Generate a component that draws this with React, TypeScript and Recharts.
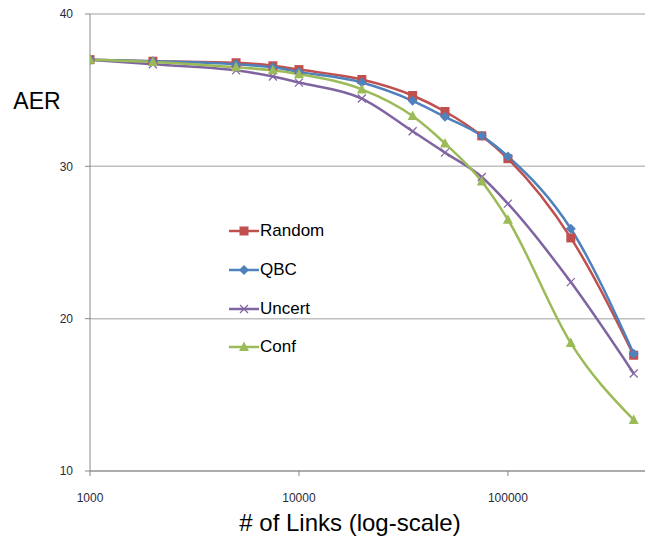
import React from "react";
import { LineChart, Line, XAxis, YAxis, CartesianGrid, Legend } from "recharts";

// # of links (log scale)
const links = [1000, 2000, 5000, 7500, 10000, 20000, 35000, 50000, 75000, 100000, 200000, 400000];
const random = [37.0, 36.9, 36.8, 36.6, 36.35, 35.7, 34.65, 33.6, 32.0, 30.5, 25.3, 17.6];
const qbc = [37.0, 36.9, 36.7, 36.5, 36.2, 35.5, 34.3, 33.25, 32.0, 30.65, 25.9, 17.7];
const uncert = [37.0, 36.7, 36.3, 35.9, 35.5, 34.45, 32.3, 30.9, 29.3, 27.55, 22.4, 16.4];
const conf = [37.0, 36.85, 36.5, 36.3, 36.05, 35.05, 33.3, 31.5, 29.0, 26.5, 18.4, 13.35];

const xTicks = [1000, 10000, 100000];
const yTicks = [10, 20, 30, 40];

const data = links.map((n, i) => ({
  n, random: random[i], qbc: qbc[i], uncert: uncert[i], conf: conf[i],
}));

const FONT = "'Liberation Sans', Arial, sans-serif";

type MarkerKind = "square" | "diamond" | "cross" | "triangle";

function Marker({ kind, cx, cy, color }: { kind: MarkerKind; cx: number; cy: number; color: string }) {
  if (kind === "square") return <rect x={cx - 4.5} y={cy - 4.5} width={9} height={9} fill={color} />;
  if (kind === "diamond") return <path d={`M${cx},${cy - 5}L${cx + 5},${cy}L${cx},${cy + 5}L${cx - 5},${cy}Z`} fill={color} />;
  if (kind === "triangle") return <path d={`M${cx},${cy - 5.5}L${cx + 5},${cy + 4}L${cx - 5},${cy + 4}Z`} fill={color} />;
  return (
    <path d={`M${cx - 4},${cy - 4}L${cx + 4},${cy + 4}M${cx - 4},${cy + 4}L${cx + 4},${cy - 4}`}
      stroke={color} strokeWidth={1.2} fill="none" />
  );
}

const series: { key: string; name: string; color: string; kind: MarkerKind }[] = [
  { key: "random", name: "Random", color: "#C0504D", kind: "square" },
  { key: "qbc", name: "QBC", color: "#4F81BD", kind: "diamond" },
  { key: "uncert", name: "Uncert", color: "#8064A2", kind: "cross" },
  { key: "conf", name: "Conf", color: "#9BBB59", kind: "triangle" },
];

function LegendBox() {
  return (
    <div style={{ fontFamily: FONT, fontSize: 17, color: "#000" }}>
      {series.map((s) => (
        <div key={s.key} style={{ display: "flex", alignItems: "center", height: 38.7 }}>
          <svg width={32} height={12}>
            <line x1={1} y1={6} x2={31} y2={6} stroke={s.color} strokeWidth={2.5} />
            <Marker kind={s.kind} cx={16} cy={6} color={s.color} />
          </svg>
          <span>{s.name}</span>
        </div>
      ))}
    </div>
  );
}

export default function App() {
  return (
    <div style={{ position: "absolute", left: 0, top: 0, width: 645, height: 539, background: "#fff" }}>
      <LineChart width={645} height={539} data={data} margin={{ top: 14, right: 0, bottom: 0, left: 0 }}>
        <CartesianGrid vertical={false} stroke="#c0c0c0" strokeWidth={1.5} />
        <XAxis
          dataKey="n" type="number" scale="log" domain={[1000, 453000]} ticks={xTicks}
          allowDataOverflow height={68} stroke="#888" tickSize={5} tickMargin={17}
          tick={{ fontSize: 12, fill: "#2a2a3a", fontFamily: FONT }}
          label={{
            content: () => (
              <text x={350} y={531} textAnchor="middle" fontSize={24} fontFamily={FONT} fill="#000">
                # of Links (log-scale)
              </text>
            ),
          }}
        />
        <YAxis
          type="number" domain={[10, 40]} ticks={yTicks} width={90} stroke="#888"
          tickSize={5} tickMargin={12} tick={{ fontSize: 12, fill: "#2a2a3a", fontFamily: FONT }}
          label={{
            content: () => (
              <text x={37} y={109} textAnchor="middle" fontSize={23} fontFamily={FONT} fill="#000">AER</text>
            ),
          }}
        />
        <Legend
          layout="vertical" align="center" verticalAlign="middle"
          content={() => <LegendBox />}
          wrapperStyle={{ left: 228, top: 212, width: 140 }}
        />
        {series.map((s) => (
          <Line
            key={s.key} dataKey={s.key} name={s.name} type="monotone" stroke={s.color}
            strokeWidth={2.5} isAnimationActive={false}
            dot={(p: any) => <Marker key={`${s.key}-${p.index}`} kind={s.kind} cx={p.cx} cy={p.cy} color={s.color} />}
            activeDot={false}
          />
        ))}
      </LineChart>
    </div>
  );
}
